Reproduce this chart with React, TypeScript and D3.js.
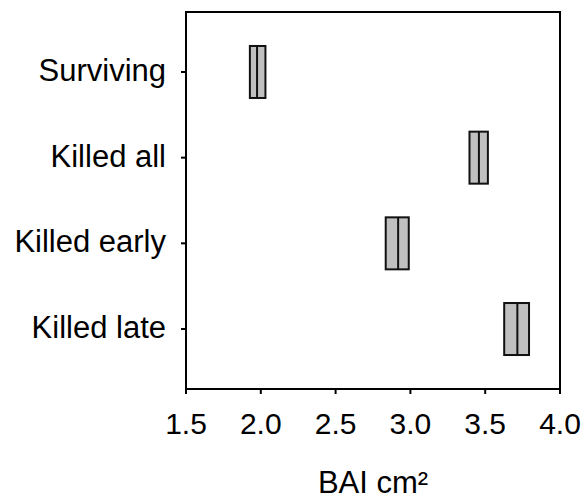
import React from "react";
import * as d3 from "d3";

// Groups, top to bottom
const categories = ["Surviving", "Killed all", "Killed early", "Killed late"];
// Box extents and middle line (BAI, cm²)
const lowerValues = [1.927, 3.395, 2.835, 3.627];
const middleValues = [1.975, 3.458, 2.918, 3.715];
const upperValues = [2.031, 3.518, 2.989, 3.793];
// Axis ticks
const xTicks = [1.5, 2.0, 2.5, 3.0, 3.5, 4.0];
const xTitle = "BAI cm²";

const W = 584;
const H = 500;
const plot = { left: 186, right: 560, top: 12, bottom: 389 };
const FONT = "Liberation Sans, Arial, Helvetica, sans-serif";
const FS_LABEL = 31;
const FS_TICK = 30;
const BOX_H = 52;

export default function App() {
  const x = d3.scaleLinear().domain([1.5, 4.0]).range([plot.left, plot.right]);
  const y = d3
    .scalePoint<string>()
    .domain(categories)
    .range([plot.top, plot.bottom])
    .padding(0.7);

  const rows = categories.map((c, i) => ({
    cat: c,
    lo: lowerValues[i],
    mid: middleValues[i],
    hi: upperValues[i],
  }));

  return (
    <svg
      width={W}
      height={H}
      style={{ position: "absolute", left: 0, top: 0, background: "#fff" }}
      fontFamily={FONT}
    >
      {/* frame */}
      <rect
        x={plot.left}
        y={plot.top}
        width={plot.right - plot.left}
        height={plot.bottom - plot.top}
        fill="none"
        stroke="#000"
        strokeWidth={2}
      />

      {/* y axis ticks and labels */}
      {categories.map((c) => (
        <g key={c}>
          <line
            x1={plot.left - 5}
            x2={plot.left}
            y1={y(c)}
            y2={y(c)}
            stroke="#000"
            strokeWidth={2}
          />
          <text
            x={plot.left - 20}
            y={(y(c) as number) + 9}
            textAnchor="end"
            fontSize={FS_LABEL}
            fill="#000"
          >
            {c}
          </text>
        </g>
      ))}

      {/* x axis ticks and labels */}
      {xTicks.map((t) => (
        <g key={t}>
          <line
            x1={x(t)}
            x2={x(t)}
            y1={plot.bottom}
            y2={plot.bottom + 5}
            stroke="#000"
            strokeWidth={2}
          />
          <text x={x(t)} y={434} textAnchor="middle" fontSize={FS_TICK} fill="#000">
            {d3.format(".1f")(t)}
          </text>
        </g>
      ))}
      <text
        x={(plot.left + plot.right) / 2}
        y={493}
        textAnchor="middle"
        fontSize={FS_LABEL}
        fill="#000"
      >
        {xTitle}
      </text>

      {/* boxes */}
      {rows.map((r) => {
        const cy = y(r.cat) as number;
        return (
          <g key={r.cat}>
            <rect
              x={x(r.lo)}
              y={cy - BOX_H / 2}
              width={x(r.hi) - x(r.lo)}
              height={BOX_H}
              fill="#c0c0c0"
              stroke="#111"
              strokeWidth={2}
            />
            <line
              x1={x(r.mid)}
              x2={x(r.mid)}
              y1={cy - BOX_H / 2}
              y2={cy + BOX_H / 2}
              stroke="#111"
              strokeWidth={2}
            />
          </g>
        );
      })}
    </svg>
  );
}
